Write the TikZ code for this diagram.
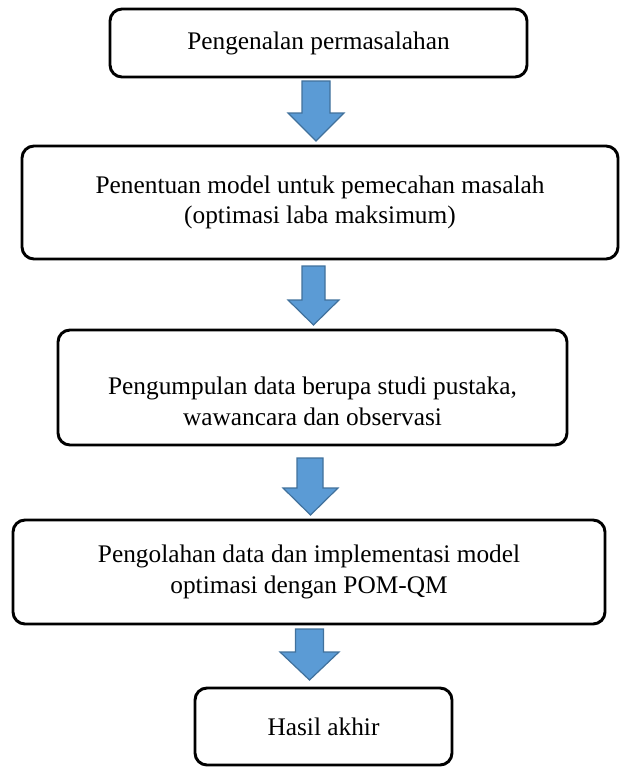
\documentclass[tikz,border=0pt]{standalone}
\usepackage{fontspec}
\setmainfont{Liberation Serif}
\definecolor{blkfill}{RGB}{91,155,213}
\definecolor{blkline}{RGB}{65,113,156}

\begin{document}
\begin{tikzpicture}[x=0.75pt,y=0.75pt,yscale=-1,xscale=1,
  stepbox/.style={draw, line width=2.2, rounded corners=9pt, align=center, inner sep=0pt, font=\fontsize{19}{23}\selectfont},
  steptext/.style={align=center, inner sep=0pt, font=\fontsize{19}{23}\selectfont},
  blkarrow/.style={draw=blkline, fill=blkfill, line width=0.9, line join=miter}]
\useasboundingbox (0,0) rectangle (619,767);

%Rounded Rect
\node [stepbox, minimum width=312.75pt, minimum height=51pt] (masalah) at (318.5,43) {Pengenalan permasalahan};
%Rounded Rect
\node [stepbox, minimum width=447pt, minimum height=84.75pt] (model) at (320,202.5) {Penentuan model untuk pemecahan masalah\\(optimasi laba maksimum)};
%Rounded Rect
\node [stepbox, minimum width=381.75pt, minimum height=86.25pt] (data) at (312.5,387.5) {};
% Text Node
\node [steptext] (datatext) at (312.5,401) {Pengumpulan data berupa studi pustaka,\\wawancara dan observasi};
%Rounded Rect
\node [stepbox, minimum width=444pt, minimum height=78pt] (olah) at (309,572) {Pengolahan data dan implementasi model\\optimasi dengan POM-QM};
%Rounded Rect
\node [stepbox, minimum width=192.75pt, minimum height=57.75pt] (hasil) at (323.5,726.5) {Hasil akhir};

%Down Arrow
\draw [blkarrow] (302,81) -- (330,81) -- (330,113) -- (344,113) -- (316,141) -- (288,113) -- (302,113) -- cycle ;
%Down Arrow
\draw [blkarrow] (302,266) -- (325,266) -- (325,300) -- (339,300) -- (313.5,325) -- (288,300) -- (302,300) -- cycle ;
%Down Arrow
\draw [blkarrow] (297,458) -- (323,458) -- (323,488) -- (338,488) -- (310.5,515) -- (283,488) -- (297,488) -- cycle ;
%Down Arrow
\draw [blkarrow] (295.5,629) -- (323.5,629) -- (323.5,652) -- (339,652) -- (309.5,680) -- (280,652) -- (295.5,652) -- cycle ;

\end{tikzpicture}
\end{document}
